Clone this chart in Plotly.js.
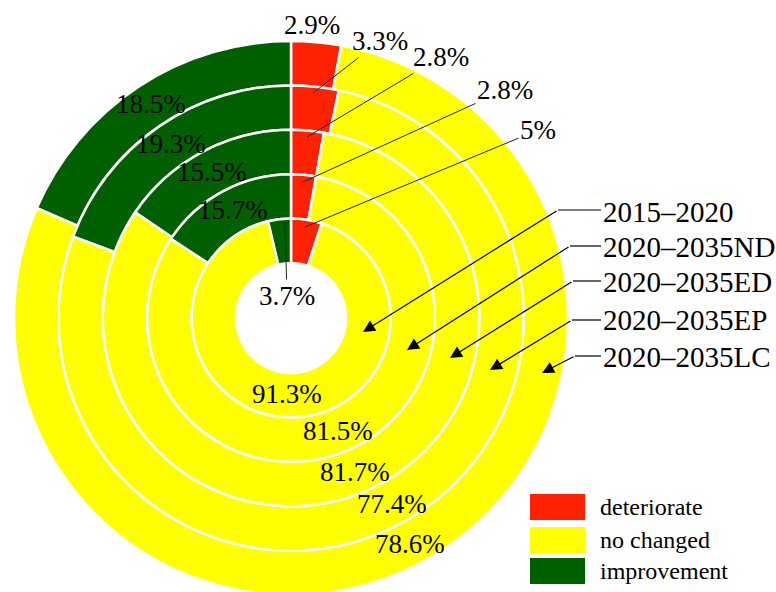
<!DOCTYPE html>
<html>
<head>
<meta charset="utf-8">
<script src="https://cdn.plot.ly/plotly-3.0.1.min.js"></script>
<style>
html,body{margin:0;padding:0;background:#fff;overflow:hidden;}
#chart{width:776px;height:600px;}
</style>
</head>
<body>
<div id="chart"></div>
<script>
// ---- data ----
const periods = ['2015–2020', '2020–2035ND', '2020–2035ED', '2020–2035EP', '2020–2035LC'];
const categories = ['deteriorate', 'no changed', 'improvement'];
const deteriorate = [5, 2.8, 2.8, 3.3, 2.9];
const noChanged = [91.3, 81.5, 81.7, 77.4, 78.6];
const improvement = [3.7, 15.7, 15.5, 19.3, 18.5];
const colors = ['#FF2200', '#FFFF00', '#006000'];

// ---- layout geometry (pixels) ----
const W = 776, H = 600;
const CX = 291, CY = 318, HOLE = 55, RING = 44.4;
const FONT = 'Liberation Serif';
const px = x => x / W;
const py = y => 1 - y / H;

const traces = periods.map((p, i) => {
  const rOut = HOLE + RING * (i + 1);
  const rIn = rOut - RING;
  return {
    type: 'pie',
    name: p,
    labels: categories,
    values: [deteriorate[i], noChanged[i], improvement[i]],
    sort: false,
    direction: 'clockwise',
    rotation: 0,
    hole: rIn / rOut,
    marker: {colors: colors, line: {color: '#FFFFFF', width: 2.5}},
    textinfo: 'none',
    hoverinfo: 'skip',
    showlegend: false,
    automargin: false,
    domain: {x: [px(CX - rOut), px(CX + rOut)], y: [py(CY + rOut), py(CY - rOut)]}
  };
}).reverse();

const annotations = [];
const shapes = [];
const fmt = v => v + '%';
const PF = {family: FONT, size: 27, color: '#000'};

function label(v, p) {
  if (p[4]) {
    annotations.push({xref: 'paper', yref: 'paper', x: px(p[0]), y: py(p[1]), ax: p[2] - p[0], ay: p[3] - p[1],
      xanchor: 'center', yanchor: 'middle',
      text: fmt(v), showarrow: true, arrowhead: 0, arrowwidth: 1, arrowcolor: '#222', standoff: 0, font: PF});
  } else {
    annotations.push({xref: 'paper', yref: 'paper', x: px(p[2]), y: py(p[3]), xanchor: 'center', yanchor: 'middle',
      text: fmt(v), showarrow: false, font: PF});
  }
}

// deteriorate labels: [head x, head y, text x, text y, leader?]
const detPos = [[305, 227, 538, 130, true], [303, 182, 505, 90, true], [307, 137, 441, 57, true], [313, 93, 380, 41, true], [0, 0, 312, 25, false]];
deteriorate.forEach((v, i) => label(v, detPos[i]));

// improvement labels
const impPos = [[285, 222, 287, 296, true], [0, 0, 233, 210, false], [0, 0, 212, 172, false], [0, 0, 171, 144, false], [0, 0, 151, 104, false]];
improvement.forEach((v, i) => label(v, impPos[i]));

// no changed labels
const ncPos = [[0, 0, 287, 394, false], [0, 0, 338, 431, false], [0, 0, 355, 472, false], [0, 0, 392, 504, false], [0, 0, 410, 544, false]];
noChanged.forEach((v, i) => label(v, ncPos[i]));

// period labels with bent arrows: [head x, head y, knee x, knee y, text y]
const perPos = [[363, 332, 558, 210, 212], [407, 350, 570, 246, 247], [450, 358, 573, 281, 282], [490, 370, 572, 320, 320], [542, 373, 575, 356, 357]];
const TEXT_X = 601;
periods.forEach((p, i) => {
  const q = perPos[i];
  annotations.push({xref: 'paper', yref: 'paper', x: px(q[0]), y: py(q[1]), ax: q[2] - q[0], ay: q[3] - q[1],
    text: '', showarrow: true, arrowhead: 2, arrowsize: 2, arrowwidth: 1.2, arrowcolor: '#000', standoff: 0});
  shapes.push({type: 'line', xref: 'paper', yref: 'paper', x0: px(q[2]), y0: py(q[3]), x1: px(TEXT_X), y1: py(q[3]),
    line: {color: '#000', width: 1.2}});
  annotations.push({xref: 'paper', yref: 'paper', x: px(TEXT_X), y: py(q[4]), xanchor: 'left', yanchor: 'middle',
    text: p, showarrow: false, font: {family: FONT, size: 29, color: '#000'}});
});

// legend
const legTop = [494, 527, 558];
categories.forEach((c, i) => {
  shapes.push({type: 'rect', xref: 'paper', yref: 'paper', x0: px(530), x1: px(585), y0: py(legTop[i] + 26), y1: py(legTop[i]),
    fillcolor: colors[i], line: {width: 0}});
  annotations.push({xref: 'paper', yref: 'paper', x: px(598), y: py(legTop[i] + 13), xanchor: 'left', yanchor: 'middle',
    text: c, showarrow: false, font: {family: FONT, size: 24, color: '#000'}});
});

const layout = {
  width: W, height: H,
  margin: {l: 0, r: 0, t: 0, b: 0},
  paper_bgcolor: '#FFFFFF',
  plot_bgcolor: '#FFFFFF',
  showlegend: false,
  font: {family: FONT},
  annotations: annotations,
  shapes: shapes
};

Plotly.newPlot('chart', traces, layout, {displayModeBar: false, staticPlot: true});
</script>
</body>
</html>
